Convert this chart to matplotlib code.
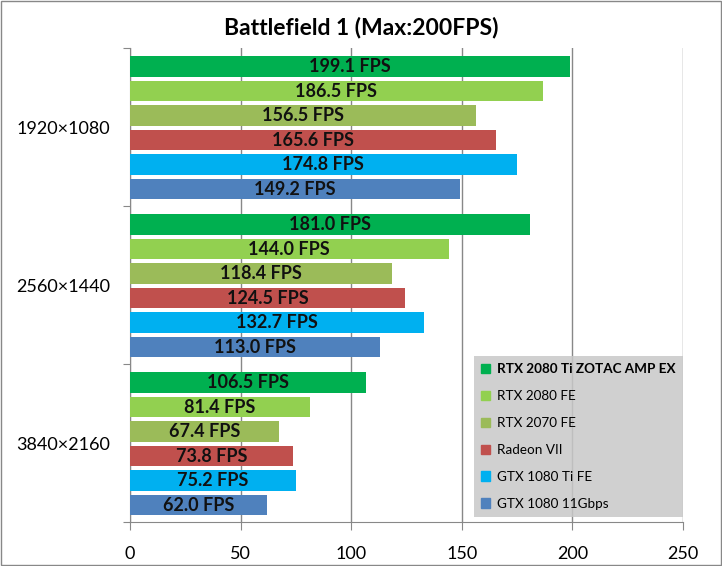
import matplotlib
matplotlib.use("Agg")
import matplotlib.pyplot as plt
import matplotlib.patches as mpatches
import numpy as np

title = "Battlefield 1 (Max:200FPS)"
resolutions = ["1920×1080", "2560×1440", "3840×2160"]
gpus = ["RTX 2080 Ti ZOTAC AMP EX", "RTX 2080 FE", "RTX 2070 FE",
        "Radeon VII", "GTX 1080 Ti FE", "GTX 1080 11Gbps"]
colors = ["#00B050", "#92D050", "#9BBB59", "#C0504D", "#00B0F0", "#4F81BD"]
fps_1920 = [199.1, 186.5, 156.5, 165.6, 174.8, 149.2]
fps_2560 = [181.0, 144.0, 118.4, 124.5, 132.7, 113.0]
fps_3840 = [106.5, 81.4, 67.4, 73.8, 75.2, 62.0]
values = [fps_1920, fps_2560, fps_3840]
xticks = [0, 50, 100, 150, 200, 250]

plt.rcParams['font.family'] = ['Lato', 'DejaVu Sans']

fig = plt.figure(figsize=(7.22, 5.66), dpi=100)
ax = fig.add_axes([130/722, 1-522/566, 553/722, 474/566])

slot = 0.155
bh = 0.128
n = len(gpus)
for g, vals in enumerate(values):
    for i, v in enumerate(vals):
        yc = g + 0.505 + (i - (n-1)/2) * slot
        ax.barh(yc, v, height=bh, color=colors[i], zorder=3)
        ax.text(v/2, yc, f"{v:.1f} FPS", ha='center', va='center',
                fontsize=13, fontweight='bold', color='#111111', zorder=4)

ax.set_xlim(0, 250)
ax.set_ylim(3, 0)
ax.set_xticks(xticks)
ax.set_xticklabels([str(t) for t in xticks], fontsize=13)
ax.tick_params(axis='x', direction='out', length=6, color='#888888', pad=11)
ax.set_yticks([0, 1, 2, 3])
ax.set_yticklabels([])
ax.tick_params(axis='y', which='major', direction='out', length=5, color='#888888')
ax.set_yticks([0.5, 1.5, 2.5], minor=True)
ax.set_yticklabels(resolutions, minor=True, fontsize=13)
ax.tick_params(axis='y', which='minor', length=0, pad=14)
ax.grid(axis='x', color='#888888', linewidth=1, zorder=0)
ax.set_axisbelow(True)
for s in ['top', 'right']:
    ax.spines[s].set_visible(False)
for s in ['left', 'bottom']:
    ax.spines[s].set_color('#888888')

fig.text(0.5, 1-27/566, title, ha='center', va='center', fontsize=16.5, fontweight='bold')

handles = [mpatches.Patch(color=c, label=l) for c, l in zip(colors, gpus)]
leg = ax.legend(handles=handles, loc='lower right', bbox_to_anchor=(1.0, 5/474),
                borderaxespad=0,
                facecolor='#c8c8c8', edgecolor='none', framealpha=0.85,
                fontsize=9.7, handlelength=0.7, handleheight=0.7, handletextpad=0.5,
                labelspacing=1.1, borderpad=0.55, fancybox=False)
leg.set_zorder(5)
leg.get_texts()[0].set_fontweight('bold')

fig.patches.append(mpatches.Rectangle((0.001, 0.001), 0.998, 0.997, transform=fig.transFigure,
                                      fill=False, edgecolor='#888888', linewidth=1))
fig.savefig("out.png", dpi=100)
